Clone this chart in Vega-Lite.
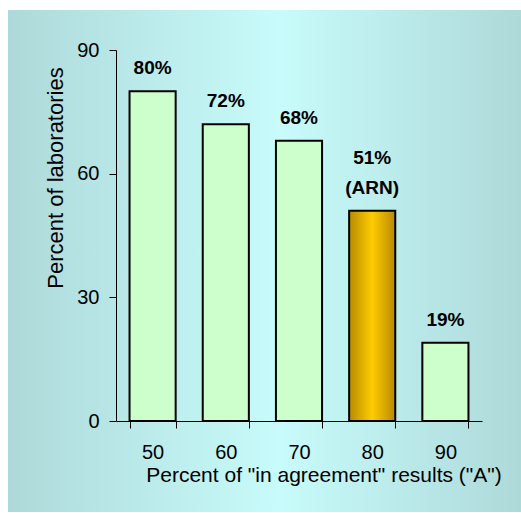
{
  "$schema": "https://vega.github.io/schema/vega-lite/v6.json",
  "width": 513,
  "height": 502,
  "autosize": {"type": "none"},
  "padding": {"left": 8, "top": 10, "right": 0, "bottom": 1},
  "background": "#ffffff",
  "config": {
    "view": {"stroke": null},
    "font": "Liberation Sans",
    "axis": {
      "grid": false,
      "domainColor": "#000000",
      "tickColor": "#000000",
      "labelColor": "#000000",
      "titleColor": "#000000",
      "titleFontWeight": "normal",
      "labelFont": "Liberation Sans",
      "titleFont": "Liberation Sans"
    }
  },
  "layer": [
    {
      "data": {"values": [{}]},
      "mark": {
        "type": "rect",
        "stroke": null,
        "fill": {
          "gradient": "linear",
          "x1": 0, "y1": 0, "x2": 1, "y2": 0,
          "stops": [
            {"offset": 0, "color": "#aed9d9"},
            {"offset": 0.53, "color": "#c8fbfb"},
            {"offset": 1, "color": "#aed9d9"}
          ]
        }
      },
      "encoding": {}
    },
    {
      "data": {
        "values": [
          {"agree": "50", "pct": 80, "upper": "", "lower": "80%"},
          {"agree": "60", "pct": 72, "upper": "", "lower": "72%"},
          {"agree": "70", "pct": 68, "upper": "", "lower": "68%"},
          {"agree": "80", "pct": 51, "upper": "51%", "lower": "(ARN)"},
          {"agree": "90", "pct": 19, "upper": "", "lower": "19%"}
        ]
      },
      "encoding": {
        "x": {
          "field": "agree",
          "type": "ordinal",
          "sort": ["50", "60", "70", "80", "90"],
          "scale": {"range": [108, 474], "paddingInner": 0.37, "paddingOuter": 0.185},
          "axis": {
            "orient": "bottom",
            "zindex": 2,
            "offset": -91,
            "labelAngle": 0,
            "tickBand": "extent",
            "tickSize": 7,
            "labelPadding": 30,
            "labelBaseline": "alphabetic",
            "labelFontSize": 20,
            "title": "Percent of \"in agreement\" results (\"A\")",
            "titleFontSize": 21,
            "titleX": 315.5,
            "titleY": 60,
            "titleAlign": "center",
            "titleBaseline": "alphabetic"
          }
        },
        "y": {
          "field": "pct",
          "type": "quantitative",
          "scale": {"domain": [0, 90], "range": [411, 40], "nice": false},
          "axis": {
            "orient": "left",
            "zindex": 2,
            "offset": -108,
            "values": [0, 30, 60, 90],
            "tickSize": 7,
            "labelPadding": 10,
            "labelFontSize": 20,
            "title": "Percent of laboratories",
            "titleFontSize": 22,
            "titleAngle": -90,
            "titleX": -61,
            "titleY": 167.5,
            "titleAlign": "center",
            "titleBaseline": "middle"
          }
        }
      },
      "layer": [
        {
          "transform": [{"filter": "datum.agree !== '80'"}],
          "mark": {"type": "bar", "fill": "#ccffcc", "stroke": "#000000", "strokeWidth": 2}
        },
        {
          "transform": [{"filter": "datum.agree === '80'"}],
          "mark": {
            "type": "bar",
            "stroke": "#000000",
            "strokeWidth": 2,
            "fill": {
              "gradient": "linear",
              "x1": 0, "y1": 0, "x2": 1, "y2": 0,
              "stops": [
                {"offset": 0, "color": "#b88a00"},
                {"offset": 0.5, "color": "#ffcc00"},
                {"offset": 1, "color": "#b88a00"}
              ]
            }
          }
        },
        {
          "mark": {
            "type": "text",
            "fontSize": 19,
            "fontWeight": "bold",
            "color": "#000000",
            "align": "center",
            "baseline": "bottom",
            "dy": -13
          },
          "encoding": {"text": {"field": "lower"}}
        },
        {
          "mark": {
            "type": "text",
            "fontSize": 19,
            "fontWeight": "bold",
            "color": "#000000",
            "align": "center",
            "baseline": "bottom",
            "dy": -43
          },
          "encoding": {"text": {"field": "upper"}}
        }
      ]
    }
  ]
}
